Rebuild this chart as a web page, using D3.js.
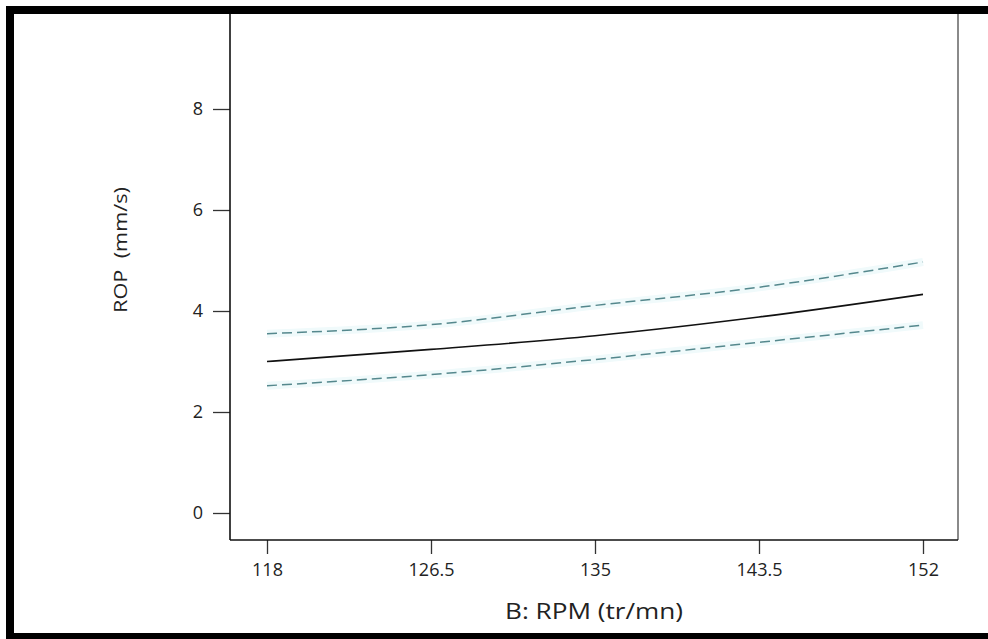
<!DOCTYPE html>
<html>
<head>
<meta charset="utf-8">
<script src="https://cdn.jsdelivr.net/npm/d3@7"></script>
<style>
  html, body { margin: 0; padding: 0; background: #fff; }
  svg { display: block; }
  text { font-family: "Open Sans", "Noto Sans", sans-serif; fill: #222; }
</style>
</head>
<body>
<svg id="chart" width="988" height="639"></svg>
<script>
// ---- data ----
const rpm = [118, 126.5, 135, 143.5, 152];
const ropMean = [3.00, 3.24, 3.51, 3.88, 4.33];
const ropUpper = [3.55, 3.73, 4.11, 4.47, 4.97];
const ropLower = [2.52, 2.74, 3.04, 3.38, 3.72];
const xTicks = [118, 126.5, 135, 143.5, 152];
const yTicks = [0, 2, 4, 6, 8];
const xTitle = "B: RPM (tr/mn)";
const yTitle = "ROP  (mm/s)";

// ---- layout ----
const W = 988, H = 639;
const svg = d3.select("#chart");

const box = { left: 230, right: 958, top: 14, bottom: 540 };

const x = d3.scaleLinear().domain([118, 152]).range([267, 923]);
const y = d3.scaleLinear().domain([0, 8]).range([513, 109]);

// right grey border of plot
svg.append("line")
  .attr("x1", box.right).attr("x2", box.right)
  .attr("y1", box.top).attr("y2", box.bottom)
  .attr("stroke", "#8a8a8a").attr("stroke-width", 2);

// y axis
const yAxis = d3.axisLeft(y).tickValues(yTicks).tickSize(17).tickPadding(10)
  .tickFormat(d3.format("d"));
const gy = svg.append("g").attr("transform", `translate(${box.left},0)`).call(yAxis);
gy.select(".domain").remove();
gy.selectAll(".tick line").attr("stroke", "#333").attr("stroke-width", 1.3);
gy.selectAll(".tick text").attr("font-size", 18).attr("fill", "#222")
  .style("font-family", '"Open Sans", sans-serif');
svg.append("line")
  .attr("x1", box.left).attr("x2", box.left)
  .attr("y1", box.top).attr("y2", box.bottom)
  .attr("stroke", "#111").attr("stroke-width", 1.6);

// x axis
const xAxis = d3.axisBottom(x).tickValues(xTicks).tickSize(14).tickPadding(9)
  .tickFormat(d => String(d));
const gx = svg.append("g").attr("transform", `translate(0,${box.bottom})`).call(xAxis);
gx.select(".domain").remove();
gx.selectAll(".tick line").attr("stroke", "#333").attr("stroke-width", 1.3);
gx.selectAll(".tick text").attr("font-size", 18).attr("fill", "#222")
  .style("font-family", '"Open Sans", sans-serif');
svg.append("line")
  .attr("x1", box.left).attr("x2", box.right)
  .attr("y1", box.bottom).attr("y2", box.bottom)
  .attr("stroke", "#111").attr("stroke-width", 1.6);

// titles
svg.append("text")
  .attr("x", 594).attr("y", 619)
  .attr("text-anchor", "middle")
  .attr("font-size", 22)
  .attr("textLength", 178)
  .attr("lengthAdjust", "spacingAndGlyphs")
  .text(xTitle);

svg.append("text")
  .attr("transform", "translate(127,250) rotate(-90)")
  .attr("text-anchor", "middle")
  .attr("font-size", 18)
  .attr("textLength", 126)
  .attr("lengthAdjust", "spacingAndGlyphs")
  .style("white-space", "pre")
  .text(yTitle);

// lines
const line = d3.line()
  .x((d, i) => x(rpm[i]))
  .y(d => y(d))
  .curve(d3.curveMonotoneX);

// faint glow for dashed lines
[ropUpper, ropLower].forEach(s => {
  svg.append("path").datum(s).attr("d", line)
    .attr("fill", "none").attr("stroke", "#f0fafb").attr("stroke-width", 8);
});
[ropUpper, ropLower].forEach(s => {
  svg.append("path").datum(s).attr("d", line)
    .attr("fill", "none").attr("stroke", "#55888d").attr("stroke-width", 1.5)
    .attr("stroke-dasharray", "10,5");
});
svg.append("path").datum(ropMean).attr("d", line)
  .attr("fill", "none").attr("stroke", "#111").attr("stroke-width", 1.6);

// outer black frame (top, left, bottom)
svg.append("rect").attr("x", 6).attr("y", 6).attr("width", W - 6).attr("height", 8).attr("fill", "#000");
svg.append("rect").attr("x", 6).attr("y", 6).attr("width", 8).attr("height", H - 6).attr("fill", "#000");
svg.append("rect").attr("x", 6).attr("y", 633).attr("width", W - 6).attr("height", 6).attr("fill", "#000");
</script>
</body>
</html>
